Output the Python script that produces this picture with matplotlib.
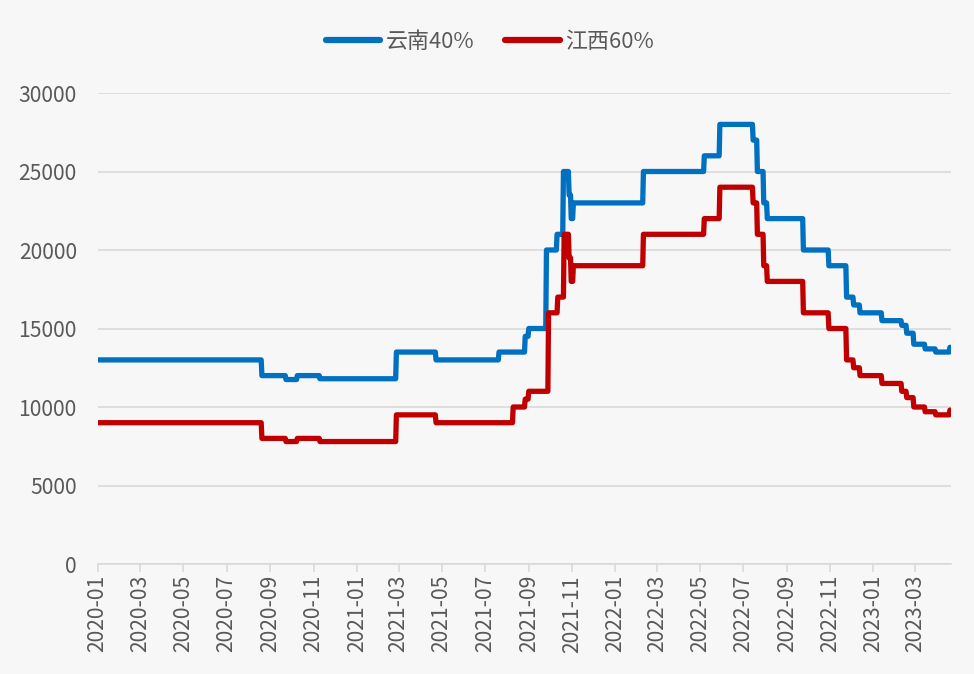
import matplotlib
matplotlib.use("Agg")
import matplotlib.pyplot as plt
import matplotlib.dates as mdates
import pandas as pd

plt.rcParams["font.family"] = ["Noto Sans CJK SC", "DejaVu Sans"]

# ── Data: price change points (value holds until next change) ────────────────
yunnan_dates = [
    "2020-01-01", "2020-08-20", "2020-09-23", "2020-10-09", "2020-11-10",
    "2021-02-26", "2021-04-23", "2021-07-21", "2021-08-27", "2021-09-01",
    "2021-09-26", "2021-10-11", "2021-10-20", "2021-10-28", "2021-10-31",
    "2021-11-03", "2022-02-10", "2022-05-07", "2022-05-29", "2022-07-15",
    "2022-07-21", "2022-07-30", "2022-08-04", "2022-09-24", "2022-10-30",
    "2022-11-24", "2022-12-04", "2022-12-13", "2023-01-13", "2023-02-10",
    "2023-02-17", "2023-02-27", "2023-03-15", "2023-03-30", "2023-04-19",
    "2023-04-20",
]
yunnan_vals = [
    13000, 12000, 11750, 12000, 11800,
    13500, 13000, 13500, 14500, 15000,
    20000, 21000, 25000, 23500, 22000,
    23000, 25000, 26000, 28000, 27000,
    25000, 23000, 22000, 20000, 19000,
    17000, 16500, 16000, 15500, 15200,
    14700, 14000, 13700, 13500, 13800,
    13800,
]

jiangxi_dates = [
    "2020-01-01", "2020-08-20", "2020-09-23", "2020-10-09", "2020-11-10",
    "2021-02-26", "2021-04-23", "2021-08-10", "2021-08-27", "2021-09-01",
    "2021-09-29", "2021-10-12", "2021-10-21", "2021-10-28", "2021-10-31",
    "2021-11-03", "2022-02-10", "2022-05-07", "2022-05-29", "2022-07-15",
    "2022-07-21", "2022-07-30", "2022-08-04", "2022-09-24", "2022-10-30",
    "2022-11-24", "2022-12-04", "2022-12-13", "2023-01-13", "2023-02-10",
    "2023-02-17", "2023-02-27", "2023-03-15", "2023-03-30", "2023-04-19",
    "2023-04-20",
]
jiangxi_vals = [
    9000, 8000, 7800, 8000, 7800,
    9500, 9000, 10000, 10500, 11000,
    16000, 17000, 21000, 19500, 18000,
    19000, 21000, 22000, 24000, 23000,
    21000, 19000, 18000, 16000, 15000,
    13000, 12500, 12000, 11500, 11000,
    10600, 10000, 9700, 9500, 9800,
    9800,
]

labels = ["云南40%", "江西60%"]
colors = ["#0070C0", "#C00000"]
BG = "#F7F7F7"
TXT = "#595959"


def to_daily(dates, vals):
    s = pd.Series(vals, index=pd.to_datetime(dates))
    s = s[~s.index.duplicated(keep="first")]
    idx = pd.date_range(s.index.min(), s.index.max(), freq="D")
    return s.reindex(idx).ffill()


yn = to_daily(yunnan_dates, yunnan_vals)
jx = to_daily(jiangxi_dates, jiangxi_vals)

# ── Plot ─────────────────────────────────────────────────────────────────────
fig = plt.figure(figsize=(9.74, 6.74), dpi=100, facecolor=BG)
ax = fig.add_axes([0.1003, 0.1632, 0.8757, 0.6988], facecolor=BG)

for s, lab, c in zip([yn, jx], labels, colors):
    ax.plot(s.index, s.values, color=c, lw=3.8, label=lab,
            solid_joinstyle="round", solid_capstyle="round")

ax.set_ylim(0, 30000)
ax.set_yticks(range(0, 30001, 5000))
ax.set_xlim(pd.Timestamp("2020-01-01"), yn.index.max())
ax.xaxis.set_major_locator(mdates.MonthLocator(bymonth=[1, 3, 5, 7, 9, 11]))
ax.xaxis.set_major_formatter(mdates.DateFormatter("%Y-%m"))
plt.setp(ax.get_xticklabels(), rotation=90)

ax.grid(axis="y", color="#D9D9D9", lw=1.2)
ax.set_axisbelow(True)
for side in ["top", "right", "left"]:
    ax.spines[side].set_visible(False)
ax.spines["bottom"].set_color("#D9D9D9")
ax.spines["bottom"].set_linewidth(1.2)
ax.tick_params(axis="y", length=0, pad=15, labelsize=15.2, labelcolor=TXT)
ax.tick_params(axis="x", length=6, width=1.2, color="#D9D9D9",
               labelsize=15.2, labelcolor=TXT, pad=2)

leg = fig.legend(loc="center", bbox_to_anchor=(0.503, 0.938), ncol=2,
                 frameon=False, fontsize=15.8, handlelength=2.5,
                 columnspacing=1.4, handletextpad=0.25)
for t in leg.get_texts():
    t.set_color(TXT)
for h in leg.get_lines():
    h.set_linewidth(4.5)

fig.savefig("out.png", dpi=100, facecolor=BG)
